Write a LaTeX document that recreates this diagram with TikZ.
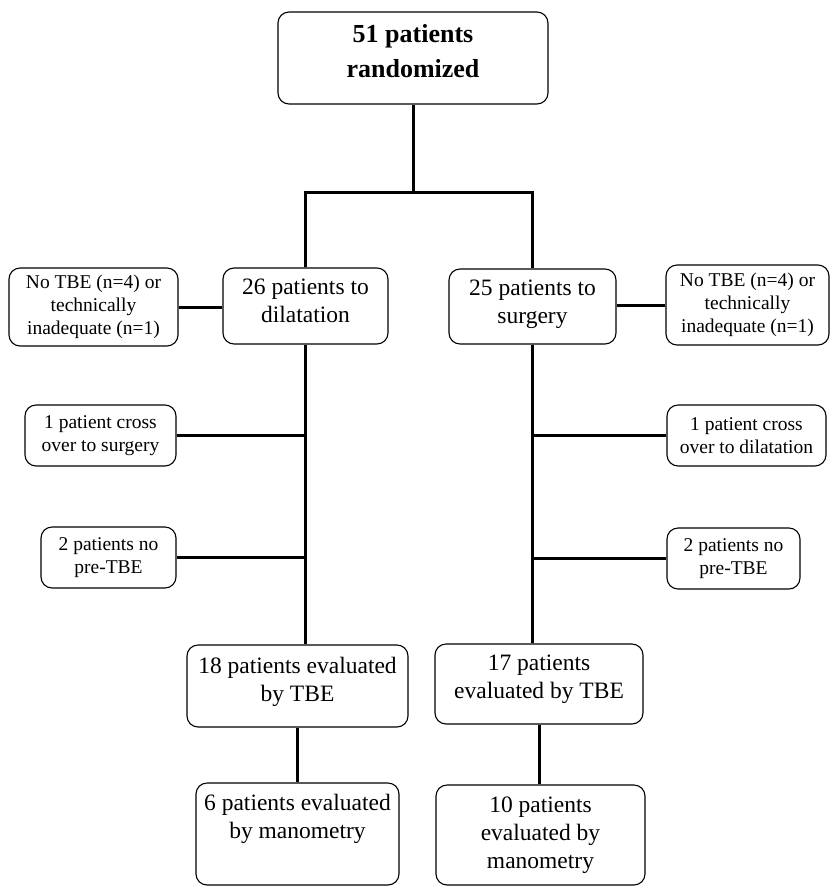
\documentclass[tikz,border=0pt]{standalone}
\usepackage{fontspec}
\setmainfont{Liberation Serif}
\begin{document}
\begin{tikzpicture}[x=1pt,y=-1pt,
  box/.style={draw=black,line width=1.1pt,rounded corners=11pt,align=center,inner sep=0pt},
  small/.style={box,font=\fontsize{19.5}{23}\selectfont},
  mid/.style={box,font=\fontsize{23.5}{28}\selectfont},
  conn/.style={line width=3pt}]
\useasboundingbox (0,0) rectangle (830,887);
\node[box,minimum width=270pt,minimum height=92pt,font=\fontsize{26}{35}\selectfont\bfseries] (top) at (413,58) {51 patients\\randomized\\[-20pt]\mbox{}};
\node[mid,minimum width=165pt,minimum height=76pt] (dil) at (305.5,306) {26 patients to\\dilatation\\[-18pt]\mbox{}};
\node[mid,minimum width=167pt,minimum height=75pt] (sur) at (532.5,306.5) {25 patients to\\surgery\\[-18pt]\mbox{}};
\node[small,minimum width=169pt,minimum height=78pt] (ntl) at (93.5,307) {No TBE (n=4) or\\technically\\inadequate (n=1)};
\node[small,minimum width=163pt,minimum height=80pt] (ntr) at (747.5,305) {No TBE (n=4) or\\technically\\inadequate (n=1)};
\node[small,minimum width=151pt,minimum height=61pt] (crl) at (100.5,435.5) {1 patient cross\\over to surgery};
\node[small,minimum width=159pt,minimum height=61pt] (crr) at (746.5,435.5) {1 patient cross\\over to dilatation};
\node[small,minimum width=135pt,minimum height=61pt] (prl) at (108.5,557.5) {2 patients no\\pre-TBE};
\node[small,minimum width=133pt,minimum height=61pt] (prr) at (733.5,558.5) {2 patients no\\pre-TBE};
\node[mid,minimum width=221pt,minimum height=82pt] (e18) at (297.5,686) {18 patients evaluated\\by TBE\\[-14pt]\mbox{}};
\node[mid,minimum width=208pt,minimum height=80pt] (e17) at (539,684) {17 patients\\evaluated by TBE\\[-14pt]\mbox{}};
\node[mid,minimum width=203pt,minimum height=102pt] (m6) at (297.5,834) {6 patients evaluated\\by manometry\\[8pt]\mbox{}};
\node[mid,minimum width=209pt,minimum height=100pt] (m10) at (540.5,835) {10 patients\\evaluated by\\manometry};
\coordinate (split) at (413,192);
\draw[conn] (top.south) -- (split);
\draw[conn] (dil.north) |- (split) -| (sur.north);
\draw[conn] (ntl.east) -- (ntl.east -| dil.west);
\draw[conn] (ntr.west) -- (ntr.west -| sur.east);
\draw[conn] (dil.south) -- (dil.south |- e18.north);
\draw[conn] (sur.south) -- (sur.south |- e17.north);
\draw[conn] (crl.east) -- (crl.east -| dil.south);
\draw[conn] (prl.east) -- (prl.east -| dil.south);
\draw[conn] (crr.west) -- (crr.west -| sur.south);
\draw[conn] (prr.west) -- (prr.west -| sur.south);
\draw[conn] (e18.south) -- (m6.north);
\draw[conn] (e17.south) -- (e17.south |- m10.north);
\end{tikzpicture}
\end{document}
